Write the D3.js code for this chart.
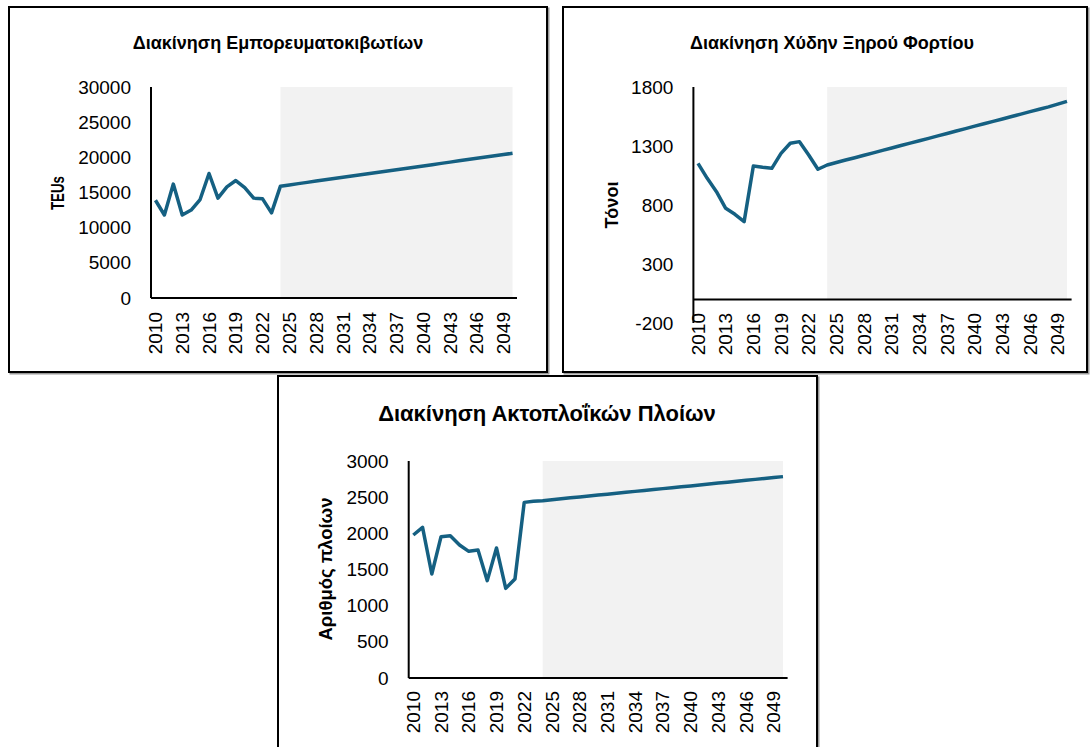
<!DOCTYPE html>
<html>
<head>
<meta charset="utf-8">
<script src="https://cdn.jsdelivr.net/npm/d3@7"></script>
<style>
  body { margin: 0; background: #fff; }
  .tick-label { font-family: "Liberation Sans", Arial, sans-serif; font-size: 19px; fill: #000; }
  .chart-title { font-family: "Liberation Sans", Arial, sans-serif; font-weight: bold; fill: #000; }
  .axis-title { font-family: "Liberation Sans", Arial, sans-serif; font-weight: bold; font-size: 18px; fill: #000; }
</style>
</head>
<body>
<div id="charts"></div>
<script>
// years on the category axis
const years = d3.range(2010, 2051);
const labelYears = [2010, 2013, 2016, 2019, 2022, 2025, 2028, 2031, 2034, 2037, 2040, 2043, 2046, 2049];
const forecastStart = 2024;

// containers (TEUs)
const teuValues = [13900, 11800, 16200, 11800, 12500, 14000, 17700, 14200, 15800, 16700, 15700, 14200, 14100, 12100,
  15900, 16080, 16260, 16440, 16620, 16800, 16980, 17160, 17340, 17520, 17700, 17880, 18060, 18240,
  18420, 18600, 18780, 18960, 19140, 19320, 19500, 19680, 19860, 20040, 20220, 20400, 20580];
const teuTicks = [0, 5000, 10000, 15000, 20000, 25000, 30000];

// dry bulk (tonnes)
const bulkValues = [1153, 1026, 913, 772, 721, 659, 1131, 1120, 1111, 1238, 1323, 1337, 1224, 1103,
  1139, 1160, 1181, 1201, 1222, 1242, 1263, 1283, 1304, 1324, 1345, 1365, 1386, 1406,
  1427, 1447, 1468, 1488, 1509, 1529, 1550, 1570, 1591, 1611, 1632, 1655, 1678];
const bulkTicks = [-200, 300, 800, 1300, 1800];

// coastal ships
const shipValues = [1977, 2082, 1438, 1954, 1968, 1839, 1751, 1770, 1346, 1798, 1239, 1369, 2428, 2442,
  2452, 2465, 2478, 2491, 2503, 2516, 2529, 2541, 2554, 2567, 2580, 2593, 2605, 2618,
  2631, 2644, 2656, 2669, 2682, 2695, 2707, 2720, 2733, 2746, 2758, 2771, 2784];
const shipTicks = [0, 500, 1000, 1500, 2000, 2500, 3000];

const lineColour = "#156082";
const shadeColour = "#f2f2f2";

const svg = d3.select("#charts")
  .append("svg")
    .attr("width", 1092)
    .attr("height", 747);

function drawBox(b) {
  svg.append("rect")
    .attr("x", b.x + 1.5).attr("y", b.y + 1.5)
    .attr("width", b.w).attr("height", b.h)
    .attr("fill", "none").attr("stroke", "#999").attr("stroke-width", 2);
  svg.append("rect")
    .attr("x", b.x).attr("y", b.y)
    .attr("width", b.w).attr("height", b.h)
    .attr("fill", "#fff").attr("stroke", "#000").attr("stroke-width", 2);
}

function drawChart(c) {
  drawBox(c.box);

  let x = d3.scaleBand()
    .domain(years)
    .range(c.xRange);

  let y = d3.scaleLinear()
    .domain([c.ticks[0], c.ticks[c.ticks.length - 1]])
    .range(c.yRange);

  const cx = d => x(d) + x.bandwidth() / 2;
  const yMax = c.ticks[c.ticks.length - 1];
  const yBase = Math.max(0, c.ticks[0]);

  // grey forecast band
  let shadeYears = years.filter(d => d >= forecastStart);
  svg.append("path")
    .datum(shadeYears)
    .attr("fill", shadeColour)
    .attr("d", d3.area()
      .x(d => cx(d))
      .y0(y(yBase))
      .y1(y(yMax)));

  // axes
  let g = svg.append("g");
  g.append("line")
    .attr("x1", c.xRange[0]).attr("x2", c.xRange[0])
    .attr("y1", y(yMax)).attr("y2", y(c.ticks[0]))
    .attr("stroke", "#000").attr("stroke-width", 2);
  g.append("line")
    .attr("x1", c.xRange[0]).attr("x2", c.xRange[1])
    .attr("y1", y(0)).attr("y2", y(0))
    .attr("stroke", "#000").attr("stroke-width", 2);

  // y tick labels
  g.selectAll(".ylab")
    .data(c.ticks)
    .enter().append("text")
    .attr("class", "tick-label")
    .attr("x", c.xRange[0] - 20)
    .attr("y", d => y(d))
    .attr("dy", "0.35em")
    .attr("text-anchor", "end")
    .text(d => d);

  // x tick labels (rotated)
  g.selectAll(".xlab")
    .data(labelYears)
    .enter().append("text")
    .attr("class", "tick-label")
    .attr("transform", d => `translate(${cx(d)},${c.xLabelTop}) rotate(-90)`)
    .attr("dy", "0.35em")
    .attr("text-anchor", "end")
    .text(d => d);

  // line
  svg.append("path")
    .datum(c.values)
    .attr("fill", "none")
    .attr("stroke", lineColour)
    .attr("stroke-width", 3.5)
    .attr("stroke-linejoin", "round")
    .attr("d", d3.line()
      .x((d, i) => cx(years[i]))
      .y(d => y(d)));

  // titles
  svg.append("text")
    .attr("class", "chart-title")
    .attr("x", c.titlePos[0]).attr("y", c.titlePos[1])
    .attr("text-anchor", "middle")
    .attr("dy", "0.35em")
    .style("font-size", c.titleSize + "px")
    .text(c.title);

  svg.append("text")
    .attr("class", "axis-title")
    .attr("transform", `translate(${c.yTitlePos[0]},${c.yTitlePos[1]}) rotate(-90)`)
    .attr("text-anchor", "middle")
    .attr("dy", "0.35em")
    .attr("textLength", c.yTitleLen)
    .attr("lengthAdjust", "spacingAndGlyphs")
    .text(c.yTitle);
}

drawChart({
  box: { x: 9, y: 7, w: 538, h: 365 },
  xRange: [151, 517], yRange: [298, 87],
  ticks: teuTicks, values: teuValues,
  xLabelTop: 312,
  title: "Διακίνηση Εμπορευματοκιβωτίων", titlePos: [278, 43], titleSize: 18,
  yTitle: "TEUs", yTitlePos: [58, 193], yTitleLen: 34
});

drawChart({
  box: { x: 563, y: 7, w: 524, h: 365 },
  xRange: [693.4, 1071.6], yRange: [323, 87],
  ticks: bulkTicks, values: bulkValues,
  xLabelTop: 313,
  title: "Διακίνηση Χύδην Ξηρού Φορτίου", titlePos: [832, 43], titleSize: 18,
  yTitle: "Τόνοι", yTitlePos: [612, 205], yTitleLen: 47
});

drawChart({
  box: { x: 278, y: 376, w: 539, h: 380 },
  xRange: [408.7, 787.6], yRange: [678, 461],
  ticks: shipTicks, values: shipValues,
  xLabelTop: 691,
  title: "Διακίνηση Ακτοπλοΐκών Πλοίων", titlePos: [547, 413], titleSize: 22,
  yTitle: "Αριθμός πλοίων", yTitlePos: [326, 569], yTitleLen: 143
});
</script>
</body>
</html>
